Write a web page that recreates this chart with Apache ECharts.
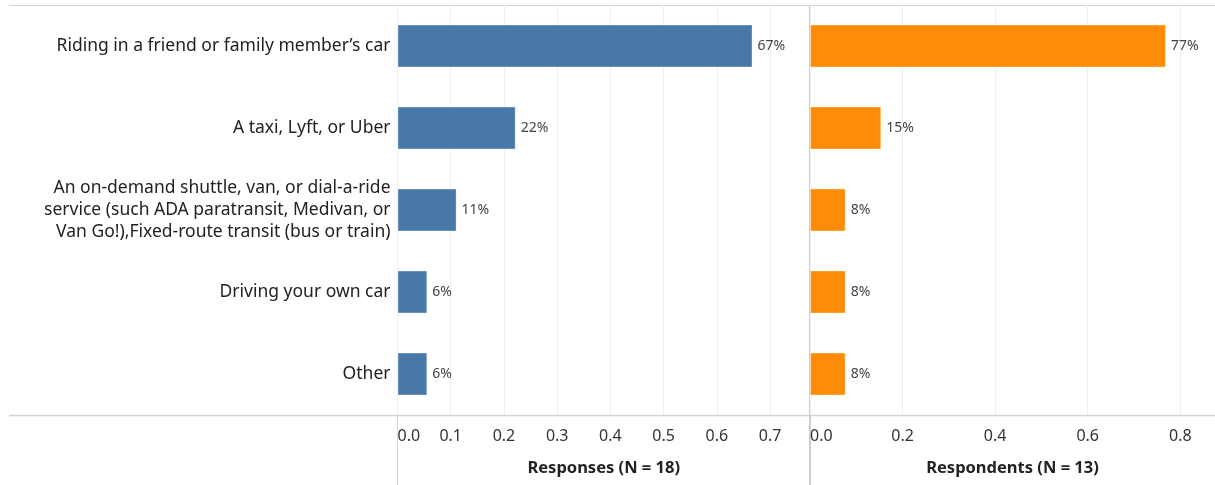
<!DOCTYPE html>
<html>
<head>
<meta charset="utf-8">
<script src="https://cdn.jsdelivr.net/npm/echarts@6/dist/echarts.min.js"></script>
<style>
  html, body { margin: 0; padding: 0; background: #fff; }
  #chart { width: 1215px; height: 485px; }
</style>
</head>
<body>
<div id="chart"></div>
<script>
// categories, top to bottom
const categories = [
  'Riding in a friend or family member\u2019s car',
  'A taxi, Lyft, or Uber',
  'An on-demand shuttle, van, or dial-a-ride\nservice (such ADA paratransit, Medivan, or\nVan Go!),Fixed-route transit (bus or train)',
  'Driving your own car',
  'Other'
];
// share of responses (N = 18)
const responses = [0.667, 0.222, 0.111, 0.056, 0.056];
// share of respondents (N = 13)
const respondents = [0.769, 0.154, 0.077, 0.077, 0.077];

const chart = echarts.init(document.getElementById('chart'));

const font = '"Noto Sans", sans-serif';
const lineColor = '#d4d4d4';

function xAxisFor(gridIndex, max, interval, title) {
  return {
    type: 'value', gridIndex: gridIndex, min: 0, max: max, interval: interval,
    axisLine: { show: false }, axisTick: { show: false },
    splitLine: { lineStyle: { color: '#efefef', width: 1 } },
    axisLabel: {
      fontFamily: font, fontSize: 16, color: '#333', margin: 13,
      showMaxLabel: false, alignMinLabel: 'left',
      formatter: v => v.toFixed(1)
    },
    name: title, nameLocation: 'middle', nameGap: 45,
    nameTextStyle: { fontFamily: font, fontSize: 16.5, fontWeight: 'bold', color: '#222' }
  };
}

function yAxisFor(gridIndex, showLabels) {
  return {
    type: 'category', gridIndex: gridIndex, data: categories, inverse: true,
    axisLine: { show: false }, axisTick: { show: false }, splitLine: { show: false },
    axisLabel: {
      show: showLabels, fontFamily: font, fontSize: 17.5, color: '#222',
      margin: 7, lineHeight: 22, align: 'right'
    }
  };
}

function barSeries(idx, data, color) {
  return {
    type: 'bar', xAxisIndex: idx, yAxisIndex: idx, data: data,
    barWidth: 43,
    itemStyle: { color: color, borderColor: 'rgba(255,255,255,0.35)', borderWidth: 1 },
    label: {
      show: true, position: 'right', distance: 5,
      fontFamily: font, fontSize: 14, color: '#444',
      formatter: p => Math.round(p.value * 100) + '%'
    },
    silent: true
  };
}

chart.setOption({
  animation: false,
  grid: [
    { left: 397.5, top: 5, width: 412.5, height: 410 },
    { left: 810, top: 5, width: 405, height: 410 }
  ],
  xAxis: [
    xAxisFor(0, 0.775, 0.1, 'Responses (N = 18)'),
    xAxisFor(1, 0.875, 0.2, 'Respondents (N = 13)')
  ],
  yAxis: [yAxisFor(0, true), yAxisFor(1, false)],
  series: [
    barSeries(0, responses, '#4878a8'),
    barSeries(1, respondents, '#ff8c06')
  ],
  graphic: [
    { type: 'line', silent: true, shape: { x1: 9, y1: 5.5, x2: 1215, y2: 5.5 }, style: { stroke: lineColor, lineWidth: 1 } },
    { type: 'line', silent: true, shape: { x1: 9, y1: 415.5, x2: 1215, y2: 415.5 }, style: { stroke: lineColor, lineWidth: 1.5 } },
    { type: 'line', silent: true, shape: { x1: 397.5, y1: 5, x2: 397.5, y2: 485 }, style: { stroke: lineColor, lineWidth: 1 } },
    { type: 'line', silent: true, shape: { x1: 810, y1: 5, x2: 810, y2: 485 }, style: { stroke: '#cfcfcf', lineWidth: 2 } }
  ]
});
</script>
</body>
</html>
